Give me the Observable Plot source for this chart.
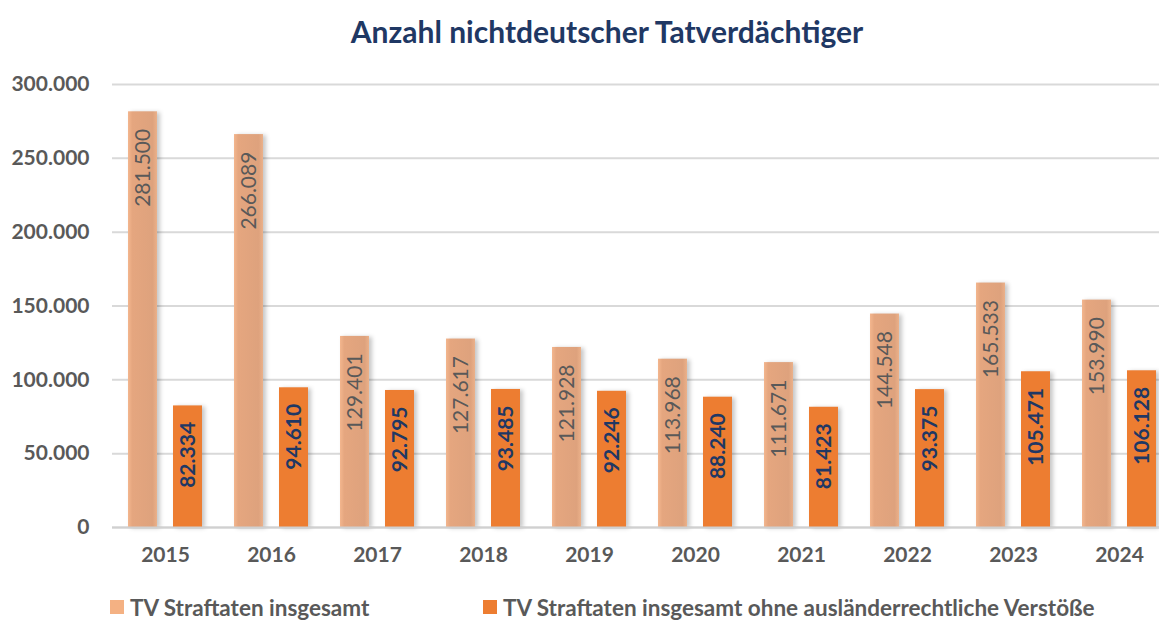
<!DOCTYPE html>
<html>
<head>
<meta charset="utf-8">
<script src="https://cdn.jsdelivr.net/npm/d3@7"></script>
<script src="https://cdn.jsdelivr.net/npm/@observablehq/plot@0.6"></script>
<style>
  html, body { margin: 0; padding: 0; background: #fff; }
  #wrap { position: relative; width: 1159px; height: 621px; overflow: hidden; font-family: Lato, "Open Sans", sans-serif; }
  #title { position: absolute; top: 14px; left: 607px; transform: translateX(-50%); white-space: nowrap;
           font-size: 30px; font-weight: bold; color: #1F3864; line-height: 34px; }
  #chart { position: absolute; top: 0; left: 0; }
  #legend { position: absolute; top: 594px; left: 0; width: 1159px; height: 26px; font-size: 22.5px; font-weight: bold; color: #595959; }
  .item { position: absolute; top: 0; display: flex; align-items: center; height: 26px; white-space: nowrap; }
  .sw { width: 14px; height: 14px; margin-right: 6px; }
</style>
</head>
<body>
<div id="wrap">
  <div id="title">Anzahl nichtdeutscher Tatverdächtiger</div>
  <div id="chart"></div>
  <div id="legend"></div>
</div>
<script>
const years = ["2015","2016","2017","2018","2019","2020","2021","2022","2023","2024"];
const seriesNames = ["TV Straftaten insgesamt", "TV Straftaten insgesamt ohne ausländerrechtliche Verstöße"];
const insgesamt = [281500, 266089, 129401, 127617, 121928, 113968, 111671, 144548, 165533, 153990];
const ohneAuslR = [82334, 94610, 92795, 93485, 92246, 88240, 81423, 93375, 105471, 106128];
const yTicks = [0, 50000, 100000, 150000, 200000, 250000, 300000];
const seriesColors = ["#F4B183", "#ED7D31"];

const rows = [];
years.forEach((y, i) => {
  rows.push({year: y, series: seriesNames[0], value: insgesamt[i]});
  rows.push({year: y, series: seriesNames[1], value: ohneAuslR[i]});
});
const light = rows.filter(d => d.series === seriesNames[0]);
const dark = rows.filter(d => d.series === seriesNames[1]);

const de = d3.formatLocale({decimal: ",", thousands: ".", grouping: [3], currency: ["", " €"]});
const fmt = de.format(",d");

const plot = Plot.plot({
  width: 1159,
  height: 590,
  marginTop: 84,
  marginBottom: 63,
  marginLeft: 112,
  marginRight: 0,
  style: {fontFamily: "Lato, 'Open Sans', sans-serif", fontSize: "21px", fontWeight: "bold", color: "#595959", background: "transparent"},
  fx: {domain: years, range: [112, 1172], padding: 0, label: null},
  x: {domain: seriesNames, padding: 0.35, axis: null},
  y: {domain: [0, 300000], label: null},
  marks: [
    Plot.gridY(yTicks, {stroke: "#D9D9D9", strokeOpacity: 1, strokeWidth: 2}),
    Plot.barY(light, {fx: "year", x: "series", y: "value", fill: "url(#lightGrad)"}),
    Plot.barY(dark, {fx: "year", x: "series", y: "value", fill: seriesColors[1]}),
    Plot.ruleY([0], {stroke: "#D0D0D0", strokeWidth: 2}),
    Plot.text(light, {fx: "year", x: "series", y: "value", text: d => fmt(d.value), rotate: -90,
      textAnchor: "end", lineAnchor: "middle", dy: 17, fill: "#595959", fontWeight: "normal", fontSize: 21}),
    Plot.text(dark, {fx: "year", x: "series", y: "value", text: d => fmt(d.value), rotate: -90,
      textAnchor: "end", lineAnchor: "middle", dy: 16, fill: "#1F3864", fontWeight: "bold", fontSize: 21}),
    Plot.axisY(yTicks, {tickSize: 0, tickPadding: 23, tickFormat: fmt, label: null, fill: "#595959"}),
    Plot.axisFx({anchor: "bottom", tickSize: 0, tickPadding: 20, label: null, fill: "#595959"})
  ]
});

// gradient for the light bars + soft shadow
const svg = d3.select(plot);
const defs = svg.insert("defs", ":first-child");
const g = defs.append("linearGradient").attr("id", "lightGrad").attr("x1", 0).attr("x2", 1).attr("y1", 0).attr("y2", 0);
g.append("stop").attr("offset", "0%").attr("stop-color", "#F3B68E");
g.append("stop").attr("offset", "15%").attr("stop-color", "#E5A67F");
g.append("stop").attr("offset", "85%").attr("stop-color", "#DEA27D");
g.append("stop").attr("offset", "100%").attr("stop-color", "#EBB18A");
svg.selectAll("g[aria-label='bar'] rect").style("filter", "drop-shadow(3px 1px 2px rgba(0,0,0,0.22))");

document.getElementById("chart").appendChild(plot);

const legend = document.getElementById("legend");
const lx = [110, 483];
seriesNames.forEach((name, i) => {
  const item = document.createElement("div");
  item.className = "item";
  item.style.left = lx[i] + "px";
  const sw = document.createElement("div");
  sw.className = "sw";
  sw.style.background = seriesColors[i];
  const t = document.createElement("span");
  t.textContent = name;
  item.appendChild(sw);
  item.appendChild(t);
  legend.appendChild(item);
});
</script>
</body>
</html>
